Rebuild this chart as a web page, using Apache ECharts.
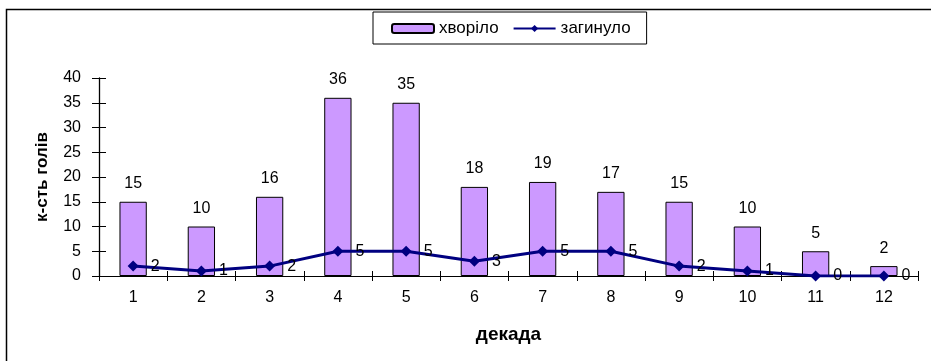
<!DOCTYPE html>
<html>
<head>
<meta charset="utf-8">
<script src="https://cdn.jsdelivr.net/npm/echarts@6/dist/echarts.min.js"></script>
<style>
  html, body { margin: 0; padding: 0; background: #fff; }
  #chart { width: 931px; height: 361px; }
</style>
</head>
<body>
<div id="chart"></div>
<script>
// Decades of the period
const decades = ['1', '2', '3', '4', '5', '6', '7', '8', '9', '10', '11', '12'];
// Number of sick animals per decade
const sick = [15, 10, 16, 36, 35, 18, 19, 17, 15, 10, 5, 2];
// Number of dead animals per decade
const dead = [2, 1, 2, 5, 5, 3, 5, 5, 2, 1, 0, 0];

const FONT = '"Liberation Sans", Arial, sans-serif';
const chart = echarts.init(document.getElementById('chart'), null, { renderer: 'canvas' });

const baseX = {
  type: 'category',
  data: decades,
  position: 'bottom',
  boundaryGap: true
};
const baseY = {
  type: 'value',
  min: 0,
  max: 40,
  interval: 5,
  position: 'left'
};

chart.setOption({
  animation: false,
  backgroundColor: '#fff',
  textStyle: { fontFamily: FONT },
  graphic: [{
    type: 'rect',
    shape: { x: 6.5, y: 9.5, width: 1000, height: 1000 },
    style: { fill: 'none', stroke: '#000', lineWidth: 1.5 },
    silent: true,
    z: -1
  }],
  legend: {
    left: 373,
    top: 12,
    padding: [8, 16, 7, 18],
    itemGap: 14,
    itemWidth: 42,
    itemHeight: 9,
    borderColor: '#000',
    borderWidth: 1,
    textStyle: { fontFamily: FONT, fontSize: 17, color: '#000', padding: [3, 0, 0, 0] },
    data: ['хворіло', 'загинуло']
  },
  grid: { left: 99, right: 13, top: 78, bottom: 85, containLabel: false },
  xAxis: [
    Object.assign({}, baseX, {
      name: 'декада',
      nameLocation: 'middle',
      nameGap: 49,
      nameTextStyle: { fontFamily: FONT, fontSize: 19, fontWeight: 'bold', color: '#000' },
      axisLine: { lineStyle: { color: '#000', width: 1 } },
      axisTick: { show: true, inside: false, length: 5, alignWithLabel: false, lineStyle: { color: '#000' } },
      axisLabel: { color: '#000', fontSize: 16, fontFamily: FONT, margin: 14 },
      splitLine: { show: false }
    }),
    Object.assign({}, baseX, {
      axisLine: { show: false },
      axisTick: { show: true, inside: true, length: 5, lineStyle: { color: '#000' } },
      axisLabel: { show: false },
      splitLine: { show: false }
    })
  ],
  yAxis: [
    Object.assign({}, baseY, {
      name: 'к-сть голів',
      nameLocation: 'middle',
      nameGap: 48,
      nameRotate: 90,
      nameTextStyle: { fontFamily: FONT, fontSize: 17, fontWeight: 'bold', color: '#000' },
      axisLine: { show: true, lineStyle: { color: '#000', width: 1.3 } },
      axisTick: { show: true, inside: false, length: 7, lineStyle: { color: '#000' } },
      axisLabel: { color: '#000', fontSize: 16, fontFamily: FONT, margin: 18 },
      splitLine: { show: false }
    }),
    Object.assign({}, baseY, {
      axisLine: { show: false },
      axisTick: { show: true, inside: true, length: 7, lineStyle: { color: '#000' } },
      axisLabel: { show: false },
      splitLine: { show: false }
    })
  ],
  series: [
    {
      name: 'хворіло',
      type: 'bar',
      xAxisIndex: 0,
      yAxisIndex: 0,
      data: sick,
      barWidth: '40%',
      itemStyle: { color: '#CC99FF', borderColor: '#000', borderWidth: 1 },
      label: {
        show: true,
        position: 'top',
        distance: 10,
        color: '#000',
        fontSize: 16,
        fontFamily: FONT
      },
      z: 2
    },
    {
      name: 'загинуло',
      type: 'line',
      xAxisIndex: 0,
      yAxisIndex: 0,
      data: dead,
      symbol: 'diamond',
      symbolSize: 11,
      lineStyle: { color: '#000080', width: 3 },
      itemStyle: { color: '#000080' },
      label: {
        show: true,
        position: 'right',
        distance: 12,
        color: '#000',
        fontSize: 16,
        fontFamily: FONT,
        padding: [2, 0, 0, 0]
      },
      z: 3
    }
  ]
});
</script>
</body>
</html>
